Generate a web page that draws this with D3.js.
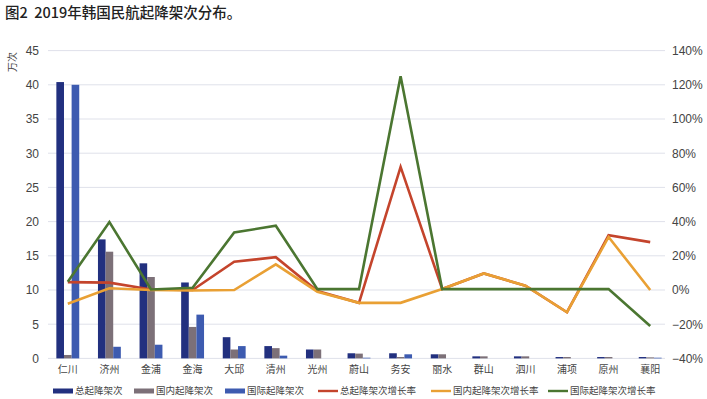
<!DOCTYPE html>
<html>
<head>
<meta charset="utf-8">
<script src="https://cdn.jsdelivr.net/npm/d3@7"></script>
<style>
  body { margin: 0; background: #fff; }
  text { font-family: "Liberation Sans", "Noto Sans CJK SC", sans-serif; }
  .cjk { font-family: "Noto Sans CJK SC", sans-serif; }
</style>
</head>
<body>
<svg id="chart" width="707" height="399"></svg>
<script>
// airports (x categories)
var airports = ["仁川", "济州", "金浦", "金海", "大邱", "清州", "光州", "蔚山", "务安", "丽水", "群山", "泗川", "浦项", "原州", "襄阳"];

// movements, 10k
var totalFlights    = [40.4, 17.4, 13.9, 11.1, 3.1, 1.8, 1.3, 0.75, 0.75, 0.6, 0.3, 0.3, 0.2, 0.2, 0.2];
var domesticFlights = [0.5, 15.6, 11.9, 4.6, 1.3, 1.5, 1.3, 0.7, 0.2, 0.6, 0.3, 0.3, 0.2, 0.2, 0.15];
var intlFlights     = [40.0, 1.7, 2.0, 6.4, 1.8, 0.4, 0, 0.1, 0.6, 0, 0, 0, 0, 0, 0.1];

// growth rates, %
var totalGrowth    = [4.6, 4.3, 0.3, 0, 16.5, 19.2, -0.6, -7.5, 72, 0.6, 9.7, 2.5, -13, 32, 28];
var domesticGrowth = [-8, 1, 0, -0.3, 0, 15, -1, -7.5, -7.5, 0.6, 9.7, 2.5, -13, 31, 0];
var intlGrowth     = [4.8, 39.7, 0.3, 1.3, 33.6, 37.6, 0.5, 0.5, 125, 0.5, 0.5, 0.5, 0.5, 0.5, -21];

var leftTicks  = [0, 5, 10, 15, 20, 25, 30, 35, 40, 45];
var rightTicks = [-40, -20, 0, 20, 40, 60, 80, 100, 120, 140];

var barSeries = [
    {"name": "总起降架次", "values": totalFlights, "color": "#22307f"},
    {"name": "国内起降架次", "values": domesticFlights, "color": "#7c7078"},
    {"name": "国际起降架次", "values": intlFlights, "color": "#3d5bb0"}
];
var lineSeries = [
    {"name": "总起降架次增长率", "values": totalGrowth, "color": "#c4442c"},
    {"name": "国内起降架次增长率", "values": domesticGrowth, "color": "#e9a034"},
    {"name": "国际起降架次增长率", "values": intlGrowth, "color": "#4b7631"}
];

var svg = d3.select("#chart");

var plotLeft = 47, plotRight = 671, plotTop = 50.6, plotBottom = 358.4;

var x = d3.scaleBand().domain(airports).range([plotLeft, plotRight]).paddingInner(0.45).paddingOuter(0.225);
var xInner = d3.scaleBand().domain(barSeries.map(function(d) { return d.name; })).range([0, x.bandwidth()]);
var yLeft = d3.scaleLinear().domain([0, 45]).range([plotBottom, plotTop]);
var yRight = d3.scaleLinear().domain([-40, 140]).range([plotBottom, plotTop]);

//Title
svg.append("text")
    .attr("class", "cjk")
    .attr("x", 5).attr("y", 18)
    .attr("font-size", 14.5).attr("font-weight", 500)
    .attr("fill", "#222")
    .style("white-space", "pre")
    .text("图2  2019年韩国民航起降架次分布。");

//Gridlines
svg.append("g").selectAll("line")
    .data(leftTicks)
    .enter().append("line")
    .attr("x1", 48).attr("x2", 665)
    .attr("y1", function(d) { return yLeft(d); })
    .attr("y2", function(d) { return yLeft(d); })
    .attr("stroke", "#dfe1ea").attr("stroke-width", 1);

//Left axis
var leftAxis = svg.append("g")
    .attr("transform", "translate(39,0)")
    .call(d3.axisLeft(yLeft).tickValues(leftTicks).tickSize(0).tickPadding(0));
leftAxis.select(".domain").remove();
leftAxis.selectAll("text").attr("font-size", 12).attr("fill", "#444")
    .attr("font-family", "Liberation Sans, sans-serif");

//Right axis
var rightAxis = svg.append("g")
    .attr("transform", "translate(672,0)")
    .call(d3.axisRight(yRight).tickValues(rightTicks).tickSize(0).tickPadding(0)
        .tickFormat(function(d) { return (d < 0 ? "\u2212" + (-d) : d) + "%"; }));
rightAxis.select(".domain").remove();
rightAxis.selectAll("text").attr("font-size", 12).attr("fill", "#444")
    .attr("font-family", "Liberation Sans, sans-serif");

//Y axis unit
svg.append("text")
    .attr("class", "cjk")
    .attr("transform", "translate(16,62) rotate(-90)")
    .attr("text-anchor", "middle")
    .attr("font-size", 10).attr("fill", "#444")
    .text("万次");

//Bars
var groups = svg.append("g").selectAll("g")
    .data(airports)
    .enter().append("g")
    .attr("transform", function(d) { return "translate(" + x(d) + ",0)"; });

groups.selectAll("rect")
    .data(function(d, i) { return barSeries.map(function(s) { return {"name": s.name, "value": s.values[i], "color": s.color}; }); })
    .enter().append("rect")
    .attr("x", function(d) { return xInner(d.name); })
    .attr("width", xInner.bandwidth())
    .attr("y", function(d) { return yLeft(d.value); })
    .attr("height", function(d) { return yLeft(0) - yLeft(d.value); })
    .attr("fill", function(d) { return d.color; });

//Lines
var line = d3.line()
    .x(function(d, i) { return x(airports[i]) + x.bandwidth() / 2; })
    .y(function(d) { return yRight(d); });

lineSeries.forEach(function(s) {
    svg.append("path")
        .datum(s.values)
        .attr("d", line)
        .attr("fill", "none")
        .attr("stroke", s.color)
        .attr("stroke-width", 2.6)
        .attr("stroke-linejoin", "miter");
});

//X labels
svg.append("g").selectAll("text")
    .data(airports)
    .enter().append("text")
    .attr("class", "cjk")
    .attr("x", function(d) { return x(d) + x.bandwidth() / 2; })
    .attr("y", 373)
    .attr("text-anchor", "middle")
    .attr("font-size", 10).attr("fill", "#444")
    .text(function(d) { return d; });

//Legend
var legendItems = [
    {"s": barSeries[0], "x": 53, "bar": true},
    {"s": barSeries[1], "x": 134, "bar": true},
    {"s": barSeries[2], "x": 225, "bar": true},
    {"s": lineSeries[0], "x": 318, "bar": false},
    {"s": lineSeries[1], "x": 431, "bar": false},
    {"s": lineSeries[2], "x": 548, "bar": false}
];
var legend = svg.append("g").selectAll("g")
    .data(legendItems)
    .enter().append("g")
    .attr("transform", function(d) { return "translate(" + d.x + ",391)"; });
legend.append("rect")
    .attr("x", 0).attr("width", 20)
    .attr("y", function(d) { return d.bar ? -2.5 : -1.2; })
    .attr("height", function(d) { return d.bar ? 5 : 2.4; })
    .attr("fill", function(d) { return d.s.color; });
legend.append("text")
    .attr("class", "cjk")
    .attr("x", 22).attr("y", 3.4)
    .attr("font-size", 9.5).attr("fill", "#444")
    .text(function(d) { return d.s.name; });
</script>
</body>
</html>
